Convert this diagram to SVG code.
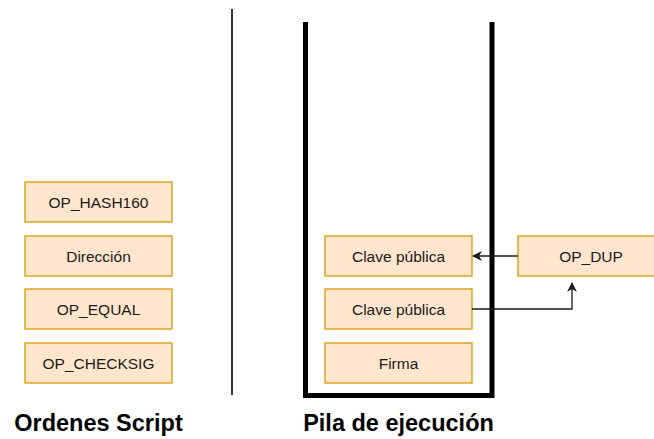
<svg xmlns="http://www.w3.org/2000/svg" width="654" height="439" viewBox="0 0 654 439">
  <style>
    .box { fill: #ffe6cc; stroke: #d79b00; stroke-width: 1.3; }
    .lbl { font-family: "Liberation Sans", Arial, sans-serif; font-size: 15.5px; fill: #1a1a1a; text-anchor: middle; }
    .title { font-family: "Liberation Sans", Arial, sans-serif; font-size: 23.5px; font-weight: bold; fill: #000; text-anchor: middle; }
    .conn { fill: none; stroke: #1a1a1a; stroke-width: 1.3; }
  </style>
  <defs>
    <marker id="arrow" viewBox="0 0 10 10" refX="9" refY="5" markerWidth="10" markerHeight="10" markerUnits="userSpaceOnUse" orient="auto">
      <path d="M0,0 L10,5 L0,10 L3,5 Z" fill="#1a1a1a"/>
    </marker>
  </defs>

  <rect width="654" height="439" fill="#fff"/>

  <!-- divider between the two columns -->
  <line x1="232" y1="9" x2="232" y2="395" stroke="#333" stroke-width="2"/>

  <!-- execution stack container -->
  <path id="stack" d="M305.5,22 V395.5 H492 V22" fill="none" stroke="#000" stroke-width="5"/>

  <!-- script opcodes -->
  <g id="op-hash160"><rect class="box" x="25" y="182" width="147" height="40"/><text class="lbl" x="98.5" y="207.5">OP_HASH160</text></g>
  <g id="direccion"><rect class="box" x="25" y="236" width="147" height="40"/><text class="lbl" x="98.5" y="261.5">Dirección</text></g>
  <g id="op-equal"><rect class="box" x="25" y="289" width="147" height="40"/><text class="lbl" x="98.5" y="314.5">OP_EQUAL</text></g>
  <g id="op-checksig"><rect class="box" x="25" y="343" width="147" height="40"/><text class="lbl" x="98.5" y="368.5">OP_CHECKSIG</text></g>

  <!-- stack items -->
  <g id="clave-1"><rect class="box" x="325" y="236" width="147" height="40"/><text class="lbl" x="398.5" y="261.5">Clave pública</text></g>
  <g id="clave-2"><rect class="box" x="325" y="289" width="147" height="40"/><text class="lbl" x="398.5" y="314.5">Clave pública</text></g>
  <g id="firma"><rect class="box" x="325" y="343" width="147" height="40"/><text class="lbl" x="398.5" y="368.5">Firma</text></g>

  <!-- current operation -->
  <g id="op-dup"><rect class="box" x="518" y="236" width="147" height="40"/><text class="lbl" x="591" y="261.5">OP_DUP</text></g>

  <!-- connectors -->
  <g id="connectors">
    <path class="conn" d="M518,256 H473" marker-end="url(#arrow)"/>
    <path class="conn" d="M472,309 H572 V283" marker-end="url(#arrow)"/>
  </g>

  <!-- column titles -->
  <text class="title" x="98.5" y="431">Ordenes Script</text>
  <text class="title" x="398.5" y="431">Pila de ejecución</text>
</svg>
